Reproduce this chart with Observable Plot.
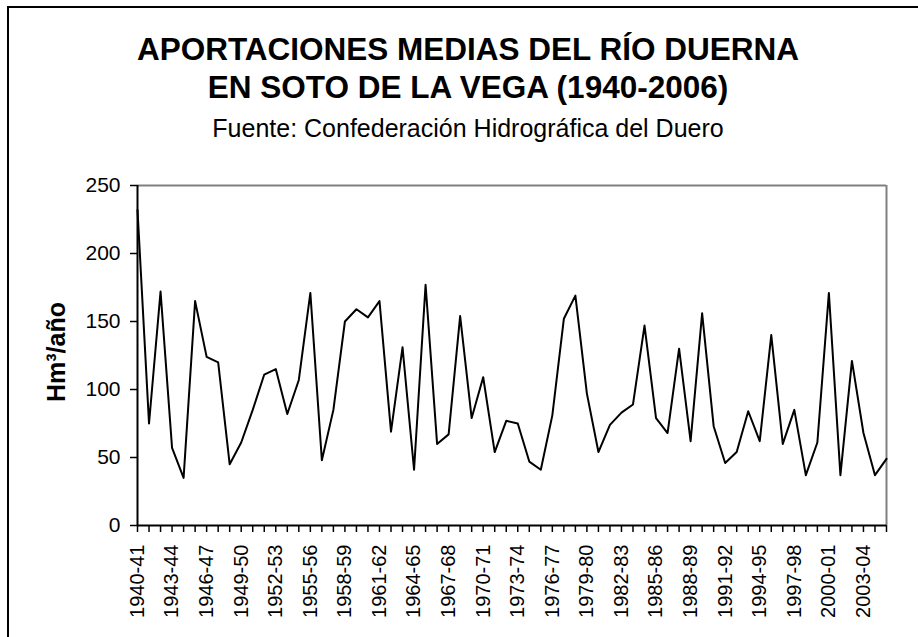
<!DOCTYPE html>
<html>
<head>
<meta charset="utf-8">
<script src="https://cdn.jsdelivr.net/npm/d3@7"></script>
<script src="https://cdn.jsdelivr.net/npm/@observablehq/plot@0.6"></script>
<style>
  html, body { margin: 0; padding: 0; background: #fff; overflow: hidden; }
  #wrap { position: relative; width: 918px; height: 637px; overflow: hidden; font-family: 'Liberation Sans', Arial, sans-serif; color: #000; }
  #border { position: absolute; left: 7px; top: 6px; width: 2000px; height: 2000px; border-left: 2px solid #000; border-top: 2px solid #000; }
  #title { position: absolute; left: 0; top: 30px; width: 936px; text-align: center; font-weight: bold; font-size: 31.5px; line-height: 38px; white-space: nowrap; }
  #subtitle { position: absolute; left: 0; top: 113px; width: 936px; text-align: center; font-size: 25px; line-height: 30px; white-space: nowrap; }
  #ylabel { position: absolute; left: 56px; top: 352px; transform: translate(-50%, -50%) rotate(-90deg); font-weight: bold; font-size: 25px; line-height: 30px; white-space: nowrap; }
  #chart { position: absolute; left: 0; top: 0; }
</style>
</head>
<body>
<div id="wrap">
  <div id="border"></div>
  <div id="chart"></div>
  <div id="title">APORTACIONES MEDIAS DEL RÍO DUERNA<br>EN SOTO DE LA VEGA (1940-2006)</div>
  <div id="subtitle">Fuente: Confederación Hidrográfica del Duero</div>
  <div id="ylabel">Hm³/año</div>
</div>
<script>
const seasons = [
  "1940-41","1941-42","1942-43","1943-44","1944-45","1945-46","1946-47","1947-48","1948-49","1949-50",
  "1950-51","1951-52","1952-53","1953-54","1954-55","1955-56","1956-57","1957-58","1958-59","1959-60",
  "1960-61","1961-62","1962-63","1963-64","1964-65","1965-66","1966-67","1967-68","1968-69","1969-70",
  "1970-71","1971-72","1972-73","1973-74","1974-75","1975-76","1976-77","1977-78","1978-79","1979-80",
  "1980-81","1981-82","1982-83","1983-84","1984-85","1985-86","1986-87","1987-88","1988-89","1989-90",
  "1990-91","1991-92","1992-93","1993-94","1994-95","1995-96","1996-97","1997-98","1998-99","1999-00",
  "2000-01","2001-02","2002-03","2003-04","2004-05","2005-06"
];
const flows = [
  232, 75, 172, 57, 35, 165, 124, 120, 45, 61,
  85, 111, 115, 82, 107, 171, 48, 85, 150, 159,
  153, 165, 69, 131, 41, 177, 60, 67, 154, 79,
  109, 54, 77, 75, 47, 41, 81, 152, 169, 97,
  54, 74, 83, 89, 147, 79, 68, 130, 62, 156,
  73, 46, 54, 84, 62, 140, 60, 85, 37, 61,
  171, 37, 121, 68, 37, 49
];
const labeledSeasons = [
  "1940-41","1943-44","1946-47","1949-50","1952-53","1955-56","1958-59","1961-62","1964-65","1967-68",
  "1970-71","1973-74","1976-77","1979-80","1982-83","1985-86","1988-89","1991-92","1994-95","1997-98",
  "2000-01","2003-04"
];
const yTicks = [0, 50, 100, 150, 200, 250];

const labelSet = new Set(labeledSeasons);
const data = seasons.map((s, i) => ({season: s, flow: flows[i]}));

const chart = Plot.plot({
  width: 918,
  height: 637,
  marginLeft: 137,
  marginRight: 32,
  marginTop: 185,
  marginBottom: 112,
  style: {fontFamily: "'Liberation Sans', Arial, sans-serif", fontSize: "21px", color: "#000", background: "transparent", overflow: "visible"},
  x: {type: "point", domain: seasons, padding: 0},
  y: {domain: [0, 250]},
  marks: [
    Plot.ruleY([250], {stroke: "#808080", strokeWidth: 2}),
    Plot.ruleX([seasons[seasons.length - 1]], {stroke: "#808080", strokeWidth: 2}),
    Plot.axisY({ticks: yTicks, tickSize: 7, tickPadding: 10, fontSize: 21, label: null, strokeWidth: 1.5, fill: "#000"}),
    Plot.axisX({ticks: seasons, tickSize: 7, tickPadding: 12, tickRotate: -90, fontSize: 20, label: null, strokeWidth: 1.5, fill: "#000",
      tickFormat: d => labelSet.has(d) ? d : ""}),
    Plot.lineY(data, {x: "season", y: "flow", stroke: "#000", strokeWidth: 2}),
    Plot.ruleX([seasons[0]], {stroke: "#000", strokeWidth: 2}),
    Plot.ruleY([0], {stroke: "#000", strokeWidth: 2})
  ]
});
document.getElementById("chart").appendChild(chart);
</script>
</body>
</html>
